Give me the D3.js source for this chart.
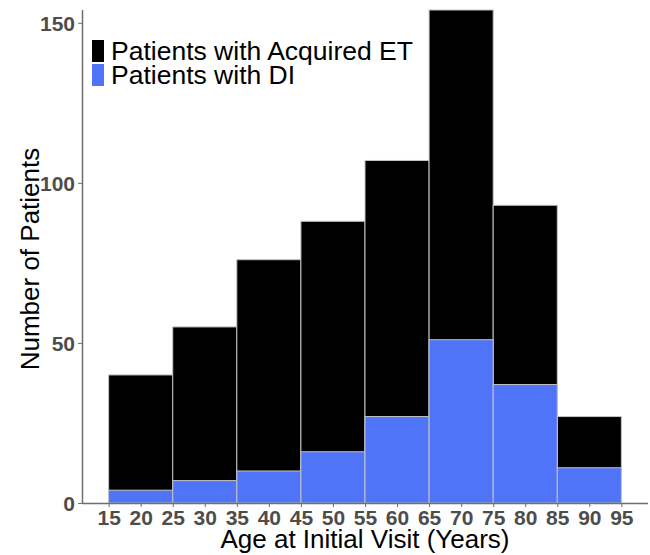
<!DOCTYPE html>
<html>
<head>
<meta charset="utf-8">
<script src="https://cdn.jsdelivr.net/npm/d3@7"></script>
<style>
  html, body { margin: 0; padding: 0; background: #fff; }
  svg { display: block; font-family: "Liberation Sans", Arial, sans-serif; }
</style>
</head>
<body>
<svg id="chart" width="650" height="555"></svg>
<script>
// Age bins (years) at initial visit
const binStarts = [15, 25, 35, 45, 55, 65, 75, 85];
const binWidth = 10;
// Patients with acquired ET per bin (full bar height)
const acquiredET = [40, 55, 76, 88, 107, 154, 93, 27];
// Patients with DI per bin (drawn in front of the ET bars)
const withDI = [4, 7, 10, 16, 27, 51, 37, 11];
const xTicks = [15, 20, 25, 30, 35, 40, 45, 50, 55, 60, 65, 70, 75, 80, 85, 90, 95];
const yTicks = [0, 50, 100, 150];
const seriesNames = ["Patients with Acquired ET", "Patients with DI"];
const seriesColors = ["#000000", "#4f74f7"];

const svg = d3.select("#chart");
const plot = { left: 83, right: 647, top: 10, bottom: 503 };

const x = d3.scaleLinear().domain([11, 99]).range([plot.left, plot.right]);
const y = d3.scaleLinear().domain([0, 154]).range([plot.bottom, plot.top]);

const bars = [
  { values: acquiredET, color: seriesColors[0] },
  { values: withDI, color: seriesColors[1] }
];

bars.forEach(s => {
  svg.append("g")
    .selectAll("rect")
    .data(binStarts.map((b, i) => ({ b, v: s.values[i] })))
    .join("rect")
    .attr("x", d => x(d.b))
    .attr("width", d => x(d.b + binWidth) - x(d.b))
    .attr("y", d => y(d.v))
    .attr("height", d => y(0) - y(d.v))
    .attr("fill", s.color)
    .attr("stroke", "#c4c4c4")
    .attr("stroke-width", 1);
});

// Axes
const xAxis = svg.append("g")
  .attr("transform", `translate(0,${plot.bottom})`)
  .call(d3.axisBottom(x).tickValues(xTicks).tickSize(4).tickPadding(3));
const yAxis = svg.append("g")
  .attr("transform", `translate(${plot.left - 1},0)`)
  .call(d3.axisLeft(y).tickValues(yTicks).tickSize(4).tickPadding(3));

[xAxis, yAxis].forEach(g => {
  g.select(".domain").attr("stroke", "#6e6e6e").attr("stroke-width", 1.5);
  g.selectAll(".tick line").attr("stroke", "#6e6e6e");
  g.selectAll(".tick text")
    .attr("fill", "#4d4d4d")
    .style("font-size", "21px")
    .style("font-weight", "bold")
    .style("font-family", "'Liberation Sans', Arial, sans-serif");
});
xAxis.select(".domain").attr("d", `M${plot.left - 1},0.5H${plot.right + 1}`);
yAxis.select(".domain").attr("d", `M0.5,${plot.bottom}V${plot.top}`);
yAxis.selectAll(".tick text").attr("dy", "0.36em");

// Axis titles
svg.append("text")
  .attr("x", (plot.left + plot.right) / 2)
  .attr("y", 548)
  .attr("text-anchor", "middle")
  .style("font-size", "26px")
  .text("Age at Initial Visit (Years)");

svg.append("text")
  .attr("transform", `translate(39,259) rotate(-90)`)
  .attr("text-anchor", "middle")
  .style("font-size", "26px")
  .text("Number of Patients");

// Legend
const legend = svg.append("g").attr("transform", "translate(92,40)");
seriesNames.forEach((name, i) => {
  legend.append("rect")
    .attr("x", 0).attr("y", i * 24)
    .attr("width", 12).attr("height", 22)
    .attr("fill", seriesColors[i]);
  legend.append("text")
    .attr("x", 19).attr("y", i * 24 + 20)
    .style("font-size", "26.5px")
    .text(name);
});
</script>
</body>
</html>
